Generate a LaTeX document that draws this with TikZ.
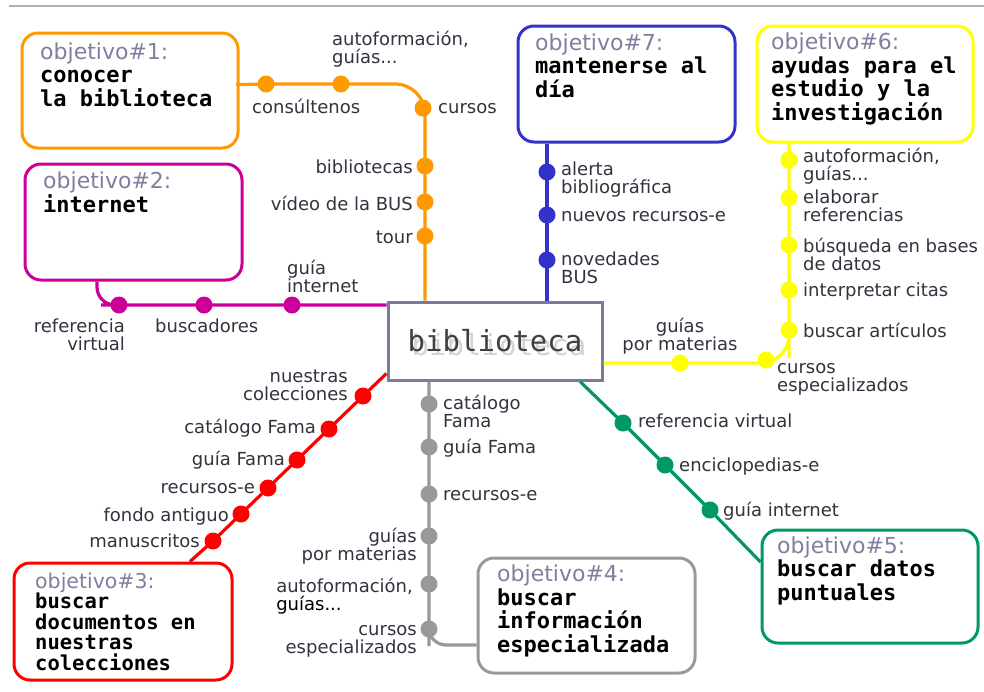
\documentclass[tikz,border=0pt]{standalone}
\usepackage{fontspec}
\newfontfamily\metrosans{DejaVu Sans}
\newfontfamily\metromono{DejaVu Sans Mono}
\definecolor{cOrange}{HTML}{FF9900}
\definecolor{cMagenta}{HTML}{CC0099}
\definecolor{cBlue}{HTML}{3333CC}
\definecolor{cYellow}{HTML}{FFFF00}
\definecolor{cRed}{HTML}{FF0000}
\definecolor{cGray}{HTML}{999999}
\definecolor{cGreen}{HTML}{009966}
\definecolor{cHub}{HTML}{7A7A9A}
\definecolor{headgray}{HTML}{7F7F9F}
\definecolor{etqgray}{HTML}{333340}
\definecolor{topgray}{HTML}{B0B0B0}
\newcommand{\objhead}[1]{{\metrosans\mdseries\color{headgray}#1}}

\begin{document}
\begin{tikzpicture}[x=1pt,y=-1pt,
  parada/.style={circle,fill=#1,inner sep=0,minimum size=17},
  linea/.style={draw=#1,line width=3.2},
  objbox/.style={draw=#1,line width=3,rounded corners=16,inner sep=0},
  objtxt/.style={inner sep=0,anchor=base west,align=left,
    font=\metromono\bfseries\fontsize{22}{23.5}\selectfont},
  etq/.style={inner sep=0,text=etqgray,font=\metrosans\fontsize{18}{18}\selectfont}]
\useasboundingbox (0,0) rectangle (984,691);
\fill[white] (0,0) rectangle (984,691);
\draw[topgray,line width=2] (9,6) -- (984,6);

% objetivos
\node[objbox=cOrange,minimum width=216,minimum height=115] (obj1) at (130,90.5) {};
\node[objbox=cMagenta,minimum width=217,minimum height=116] (obj2) at (133.5,222) {};
\node[objbox=cRed,minimum width=218,minimum height=117] (obj3) at (123,621.5) {};
\node[objbox=cGray,minimum width=217,minimum height=115] (obj4) at (586.5,615.5) {};
\node[objbox=cGreen,minimum width=216,minimum height=113] (obj5) at (870,586.5) {};
\node[objbox=cYellow,minimum width=216,minimum height=116] (obj6) at (865,84) {};
\node[objbox=cBlue,minimum width=217,minimum height=116] (obj7) at (626.5,84) {};

% (base = last line)
\node[objtxt] (obj1t) at (40,106) {\objhead{objetivo\#1:}\\conocer\\la biblioteca};
\node[objtxt] (obj2t) at (43,212) {\objhead{objetivo\#2:}\\internet};
\node[objtxt,font=\metromono\bfseries\fontsize{20.5}{20.5}\selectfont] (obj3t) at (35,670)
  {\objhead{objetivo\#3:}\\buscar\\documentos en\\nuestras\\colecciones};
\node[objtxt] (obj4t) at (497,652) {\objhead{objetivo\#4:}\\buscar\\información\\especializada};
\node[objtxt] (obj5t) at (777,600) {\objhead{objetivo\#5:}\\buscar datos\\puntuales};
\node[objtxt] (obj6t) at (771,120) {\objhead{objetivo\#6:}\\ayudas para el\\estudio y la\\investigación};
\node[objtxt] (obj7t) at (535,97) {\objhead{objetivo\#7:}\\mantenerse al\\día};

% centro
\node[inner sep=0,text=black!17,font=\metromono\fontsize{29}{29}\selectfont] (hubshadow) at (499,345) {biblioteca};
\node[draw=cHub,line width=3,inner sep=0,minimum width=214,minimum height=78,
  text=black!75,font=\metromono\fontsize{29}{29}\selectfont] (hub) at (495,341) {biblioteca};

% linea naranja
\node[parada=cOrange] (oa) at (266,84) {};
\node[parada=cOrange] (ob) at (341,84) {};
\node[parada=cOrange] (oc) at (423,108) {};
\node[parada=cOrange] (od) at (425,166) {};
\node[parada=cOrange] (oe) at (425,202) {};
\node[parada=cOrange] (of) at (425,236) {};
\draw[linea=cOrange,rounded corners=30] ([yshift=6]obj1.east) -- (oa.center) -- (ob.center)
  -- (ob.center -| od.center) -- (hub.north -| od.center);
\node[etq,anchor=base west] (toa) at (252,113) {consúltenos};
\node[etq,anchor=base west,align=left] (tob) at (332,63) {autoformación,\\guías...};
\node[etq,anchor=base west] (toc) at (438,113) {cursos};
\node[etq,anchor=base east] (tod) at (413,173) {bibliotecas};
\node[etq,anchor=base east] (toe) at (413,210) {vídeo de la BUS};
\node[etq,anchor=base east] (tof) at (413,243) {tour};

% linea magenta
\node[parada=cMagenta] (ma) at (119,305) {};
\node[parada=cMagenta] (mb) at (204,305) {};
\node[parada=cMagenta] (mc) at (292,305) {};
\draw[linea=cMagenta,rounded corners=18] ([xshift=-36.5]obj2.south) |- (ma.center) -- (mb.center)
  -- (mc.center) -- (hub.west |- mc.center);
\node[etq,anchor=base east,align=right] (tma) at (125,350) {referencia\\virtual};
\node[etq,anchor=base west] (tmb) at (155,332) {buscadores};
\node[etq,anchor=base west,align=left] (tmc) at (287,292) {guía\\internet};

% linea roja
\node[parada=cRed] (ra) at (363,396) {};
\node[parada=cRed] (rb) at (329,429) {};
\node[parada=cRed] (rc) at (297,460) {};
\node[parada=cRed] (rd) at (268,488) {};
\node[parada=cRed] (re) at (241,514) {};
\node[parada=cRed] (rf) at (213,541) {};
\draw[linea=cRed] ([yshift=8]hub.south west) -- (ra.center) -- (rf.center) -- ([xshift=67]obj3.north);
\node[etq,anchor=base east,align=right] (tra) at (348,400) {nuestras\\colecciones};
\node[etq,anchor=base east] (trb) at (316,433) {catálogo Fama};
\node[etq,anchor=base east] (trc) at (285,465) {guía Fama};
\node[etq,anchor=base east] (trd) at (255,493) {recursos-e};
\node[etq,anchor=base east] (tre) at (229,521) {fondo antiguo};
\node[etq,anchor=base east] (trf) at (200,547) {manuscritos};

% linea gris
\node[parada=cGray] (ga) at (429,404) {};
\node[parada=cGray] (gb) at (429,447) {};
\node[parada=cGray] (gc) at (429,494) {};
\node[parada=cGray] (gd) at (429,536) {};
\node[parada=cGray] (ge) at (429,584) {};
\node[parada=cGray] (gf) at (429,629) {};
\draw[linea=cGray,rounded corners=17] (hub.south -| ga.center) -- (gf.center) |- ([yshift=-29.5]obj4.west);
\node[etq,anchor=base west,align=left] (tga) at (443,427) {catálogo\\Fama};
\node[etq,anchor=base west] (tgb) at (443,453) {guía Fama};
\node[etq,anchor=base west] (tgc) at (443,500) {recursos-e};
\node[etq,anchor=base east,align=right] (tgd) at (417,560) {guías\\por materias};
\node[etq,anchor=base east,align=left] (tge) at (413,610) {autoformación,\\{\color{black}guías...}};
\node[etq,anchor=base east,align=right] (tgf) at (417,653) {cursos\\especializados};

% linea azul
\node[parada=cBlue] (ba) at (547,172) {};
\node[parada=cBlue] (bb) at (547,215) {};
\node[parada=cBlue] (bc) at (547,260) {};
\draw[linea=cBlue] (obj7.south -| ba.center) -- (hub.north -| ba.center);
\node[etq,anchor=base west,align=left] (tba) at (561,193) {alerta\\bibliográfica};
\node[etq,anchor=base west] (tbb) at (561,221) {nuevos recursos-e};
\node[etq,anchor=base west,align=left] (tbc) at (561,283) {novedades\\BUS};

% linea amarilla
\node[parada=cYellow] (ya) at (789,160) {};
\node[parada=cYellow] (yb) at (789,198) {};
\node[parada=cYellow] (yc) at (789,245) {};
\node[parada=cYellow] (yd) at (789,290) {};
\node[parada=cYellow] (ye) at (789,330) {};
\node[parada=cYellow] (yf) at (766,360) {};
\node[parada=cYellow] (yg) at (680,363) {};
\draw[linea=cYellow,rounded corners=28] (obj6.south -| ya.center) -- (ye.center) |- (yg.center)
  -- (hub.east |- yg.center);
\node[etq,anchor=base west,align=left] (tya) at (803,180) {autoformación,\\guías...};
\node[etq,anchor=base west,align=left] (tyb) at (803,221) {elaborar\\referencias};
\node[etq,anchor=base west,align=left] (tyc) at (803,270) {búsqueda en bases\\de datos};
\node[etq,anchor=base west] (tyd) at (803,296) {interpretar citas};
\node[etq,anchor=base west] (tye) at (803,337) {buscar artículos};
\node[etq,anchor=base west,align=left] (tyf) at (777,391) {cursos\\especializados};
\node[etq,anchor=base,align=center] (tyg) at (680,350) {guías\\por materias};

% linea verde
\node[parada=cGreen] (ea) at (623,423) {};
\node[parada=cGreen] (eb) at (665,465) {};
\node[parada=cGreen] (ec) at (710,510) {};
\draw[linea=cGreen] ([xshift=85]hub.south) -- (ea.center) -- (ec.center) -- ([yshift=24.5]obj5.west);
\node[etq,anchor=base west] (tea) at (638,427) {referencia virtual};
\node[etq,anchor=base west] (teb) at (679,471) {enciclopedias-e};
\node[etq,anchor=base west] (tec) at (723,516) {guía internet};
\end{tikzpicture}
\end{document}
